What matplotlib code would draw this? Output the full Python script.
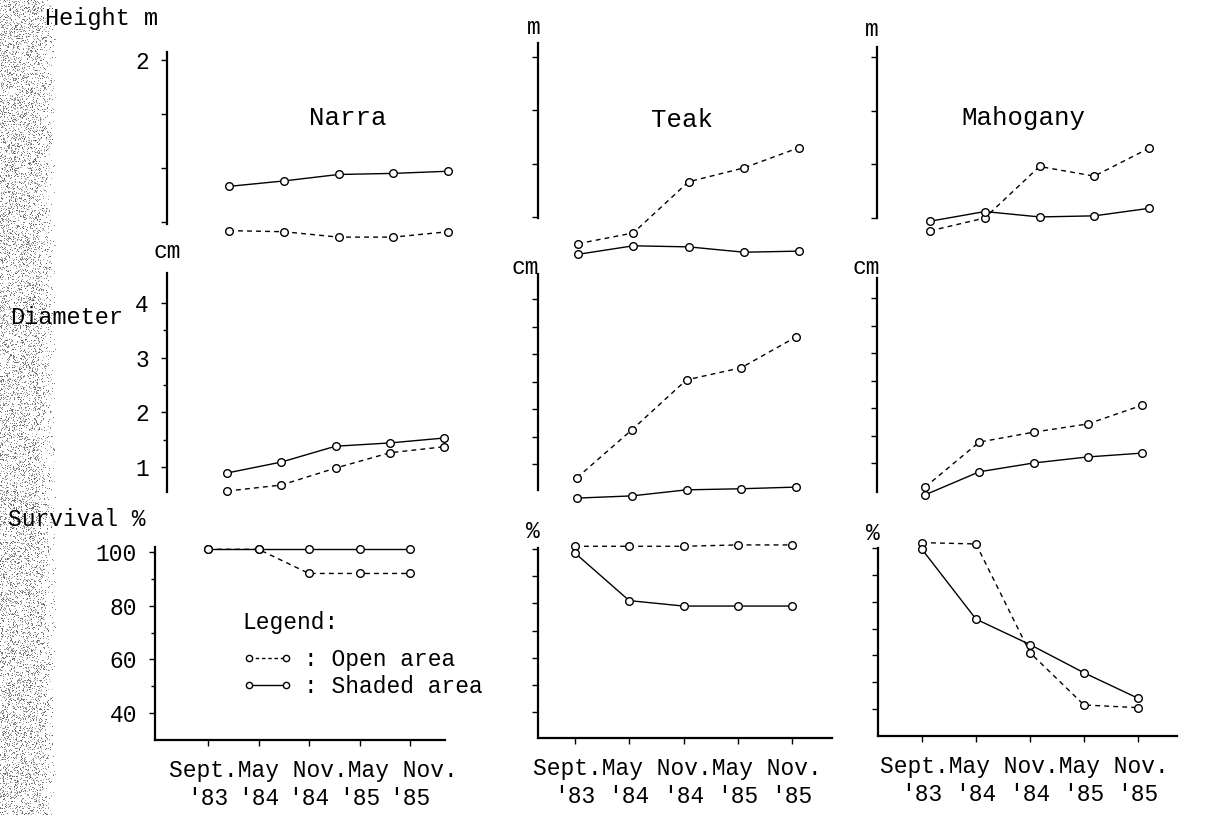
import numpy as np
import matplotlib
matplotlib.use("Agg")
import matplotlib.pyplot as plt
from matplotlib.lines import Line2D

plt.rcParams['font.family'] = ['Liberation Mono', 'DejaVu Sans Mono']

# sampling dates
months = ["Sept.", "May", "Nov.", "May", "Nov."]
years = ["'83", "'84", "'84", "'85", "'85"]
species = ["Narra", "Teak", "Mahogany"]

# height, m
narra_height_open = [0.42, 0.41, 0.36, 0.36, 0.41]
narra_height_shaded = [0.83, 0.88, 0.94, 0.95, 0.97]
teak_height_open = [0.25, 0.35, 0.83, 0.96, 1.15]
teak_height_shaded = [0.15, 0.23, 0.22, 0.17, 0.18]
mahogany_height_open = [0.38, 0.50, 0.98, 0.89, 1.15]
mahogany_height_shaded = [0.47, 0.56, 0.51, 0.52, 0.59]

# diameter, cm
narra_diam_open = [0.56, 0.67, 0.98, 1.26, 1.37]
narra_diam_shaded = [0.89, 1.09, 1.38, 1.44, 1.53]
teak_diam_open = [0.75, 1.62, 2.53, 2.75, 3.31]
teak_diam_shaded = [0.38, 0.42, 0.53, 0.55, 0.58]
mahogany_diam_open = [0.56, 1.38, 1.56, 1.71, 2.05]
mahogany_diam_shaded = [0.42, 0.84, 1.00, 1.11, 1.18]

# survival, %
narra_surv_open = [101, 101, 92, 92, 92]
narra_surv_shaded = [101, 101, 101, 101, 101]
teak_surv_open = [101, 101, 101, 101.5, 101.5]
teak_surv_shaded = [98.5, 81, 79, 79, 79]
mahogany_surv_open = [102, 101.5, 61, 41.5, 40.5]
mahogany_surv_shaded = [99.5, 73.5, 64, 53.5, 44]

W, H = 1206, 815
fig = plt.figure(figsize=(W / 100, H / 100), dpi=100)
fig.patch.set_facecolor("white")

# speckled edge of the scanned page
rng = np.random.default_rng(3)
strip_w = 62
xx = np.arange(strip_w)
dens = np.clip((56 - xx) / 18.0, 0, 1) * 0.22
dots = rng.random((H, strip_w)) < dens[None, :]
shade = 1 - dots * rng.uniform(0.25, 0.65, (H, strip_w))
strip = np.dstack([shade, shade, shade, np.ones_like(shade)])
fig.figimage(strip, xo=0, yo=0, origin="upper", zorder=0)

FS = 16.5


def px(x, y):
    return x / W, 1 - y / H


def panel(spine_x, top, bottom, right, xs, ymap, bottom_axis=False):
    ax = fig.add_axes([spine_x / W, 1 - bottom / H, (right - spine_x) / W, (bottom - top) / H])
    step = (xs[1] - xs[0]) / 4
    ax.set_xlim((spine_x - xs[0]) / step, (right - xs[0]) / step)
    v1, p1, v2, p2 = ymap
    k = (p2 - p1) / (v2 - v1)
    ax.set_ylim(v1 + (bottom - p1) / k, v1 + (top - p1) / k)
    ax.patch.set_alpha(0)
    for s in ["top", "right"]:
        ax.spines[s].set_visible(False)
    ax.spines["left"].set_linewidth(1.6)
    ax.spines["bottom"].set_linewidth(1.6)
    ax.spines["bottom"].set_visible(bottom_axis)
    ax.tick_params(axis="y", direction="out", length=4, width=1, pad=9, labelsize=FS)
    ax.tick_params(axis="y", which="minor", direction="out", length=3, width=1)
    if bottom_axis:
        ax.tick_params(axis="x", direction="out", length=4, width=1, pad=30, labelsize=FS)
        ax.set_xticks(range(5), years)
        ax.annotate("Sept.May Nov.May Nov.", xy=(-0.78, 0), xycoords=("data", "axes fraction"),
                    xytext=(0, -22), textcoords="offset points", ha="left", va="center", fontsize=FS)
    else:
        ax.set_xticks([])
    return ax


def series(ax, opened, shaded):
    x = np.arange(len(opened))
    kw = dict(color="black", lw=1.0, marker="o", ms=5.5, mfc="white", mec="black", mew=1.0,
              clip_on=False, zorder=3)
    ax.plot(x, opened, dashes=(3.5, 3), **kw)
    ax.plot(x, shaded, **kw)


# column layout: spine x, row extents and pixel anchors of the data
cols = [
    dict(height=(167, 52, 224, 470, (229, 448), (2, 60, 0.5, 222)),
         diam=(167, 273, 492, 470, (227, 444), (4, 303, 1, 467)),
         surv=(155, 547, 740, 445, (208, 410), (100, 552, 40, 713))),
    dict(height=(538, 43, 218, 830, (578, 799), (2, 57, 0.5, 217)),
         diam=(538, 274, 490, 830, (577, 796), (4, 299, 1, 464)),
         surv=(538, 548, 738, 832, (575, 792), (100, 549, 40, 712))),
    dict(height=(877, 47, 218, 1180, (930, 1149), (2, 57, 0.5, 218)),
         diam=(877, 278, 492, 1180, (925, 1142), (4, 298, 1, 463)),
         surv=(878, 548, 736, 1177, (922, 1138), (100, 548, 40, 709))),
]

height_data = [(narra_height_open, narra_height_shaded), (teak_height_open, teak_height_shaded),
               (mahogany_height_open, mahogany_height_shaded)]
diam_data = [(narra_diam_open, narra_diam_shaded), (teak_diam_open, teak_diam_shaded),
             (mahogany_diam_open, mahogany_diam_shaded)]
surv_data = [(narra_surv_open, narra_surv_shaded), (teak_surv_open, teak_surv_shaded),
             (mahogany_surv_open, mahogany_surv_shaded)]

for i, lay in enumerate(cols):
    axh = panel(*lay["height"])
    axh.set_yticks([0.5, 1.0, 1.5, 2.0], ["", "", "", "2"] if i == 0 else [""] * 4)
    series(axh, *height_data[i])

    axd = panel(*lay["diam"])
    if i == 0:
        axd.set_yticks([1, 2, 3, 4], ["1", "2", "3", "4"])
        axd.set_yticks([1.5, 2.5, 3.5], minor=True)
    else:
        axd.set_yticks(np.arange(1, 4.01, 0.5), [""] * 7)
    series(axd, *diam_data[i])

    axs = panel(*lay["surv"], bottom_axis=True)
    if i == 0:
        axs.set_yticks([40, 60, 80, 100], ["40", "60", "80", "100"])
        axs.set_yticks([50, 70, 90], minor=True)
        handles = [Line2D([], [], color="black", lw=1.0, dashes=(2.5, 2), marker="o", ms=4.5,
                          mfc="white", mec="black"),
                   Line2D([], [], color="black", lw=1.0, marker="o", ms=4.5,
                          mfc="white", mec="black")]
        leg = axs.legend(handles, [": Open area", ": Shaded area"], title="Legend:",
                         loc="upper left", bbox_to_anchor=px(242, 611), bbox_transform=fig.transFigure,
                         frameon=False, fontsize=FS, title_fontsize=FS, numpoints=2,
                         handlelength=2.2, handletextpad=0.5, labelspacing=0.2, alignment="left",
                         borderaxespad=0, borderpad=0)
        leg._legend_box.sep = 10
    else:
        axs.set_yticks(np.arange(40, 101, 10), [""] * 7)
    series(axs, *surv_data[i])

# row and unit captions
fig.text(*px(45, 19), "Height m", fontsize=FS + 0.5, va="center", ha="left")
fig.text(*px(534, 27), "m", fontsize=FS, va="center", ha="center")
fig.text(*px(872, 29), "m", fontsize=FS, va="center", ha="center")
fig.text(*px(167, 251), "cm", fontsize=FS, va="center", ha="center")
fig.text(*px(525, 267), "cm", fontsize=FS, va="center", ha="center")
fig.text(*px(866, 268), "cm", fontsize=FS, va="center", ha="center")
fig.text(*px(10, 318), "Diameter", fontsize=FS + 0.5, va="center", ha="left")
fig.text(*px(8, 520), "Survival %", fontsize=FS, va="center", ha="left")
fig.text(*px(533, 531), "%", fontsize=FS, va="center", ha="center")
fig.text(*px(873, 533), "%", fontsize=FS, va="center", ha="center")

for name, (x, y) in zip(species, [(348, 118), (682, 120), (1023, 118)]):
    fig.text(*px(x, y), name, fontsize=FS + 2, va="center", ha="center")

fig.savefig("out.png", dpi=100, facecolor="white")
